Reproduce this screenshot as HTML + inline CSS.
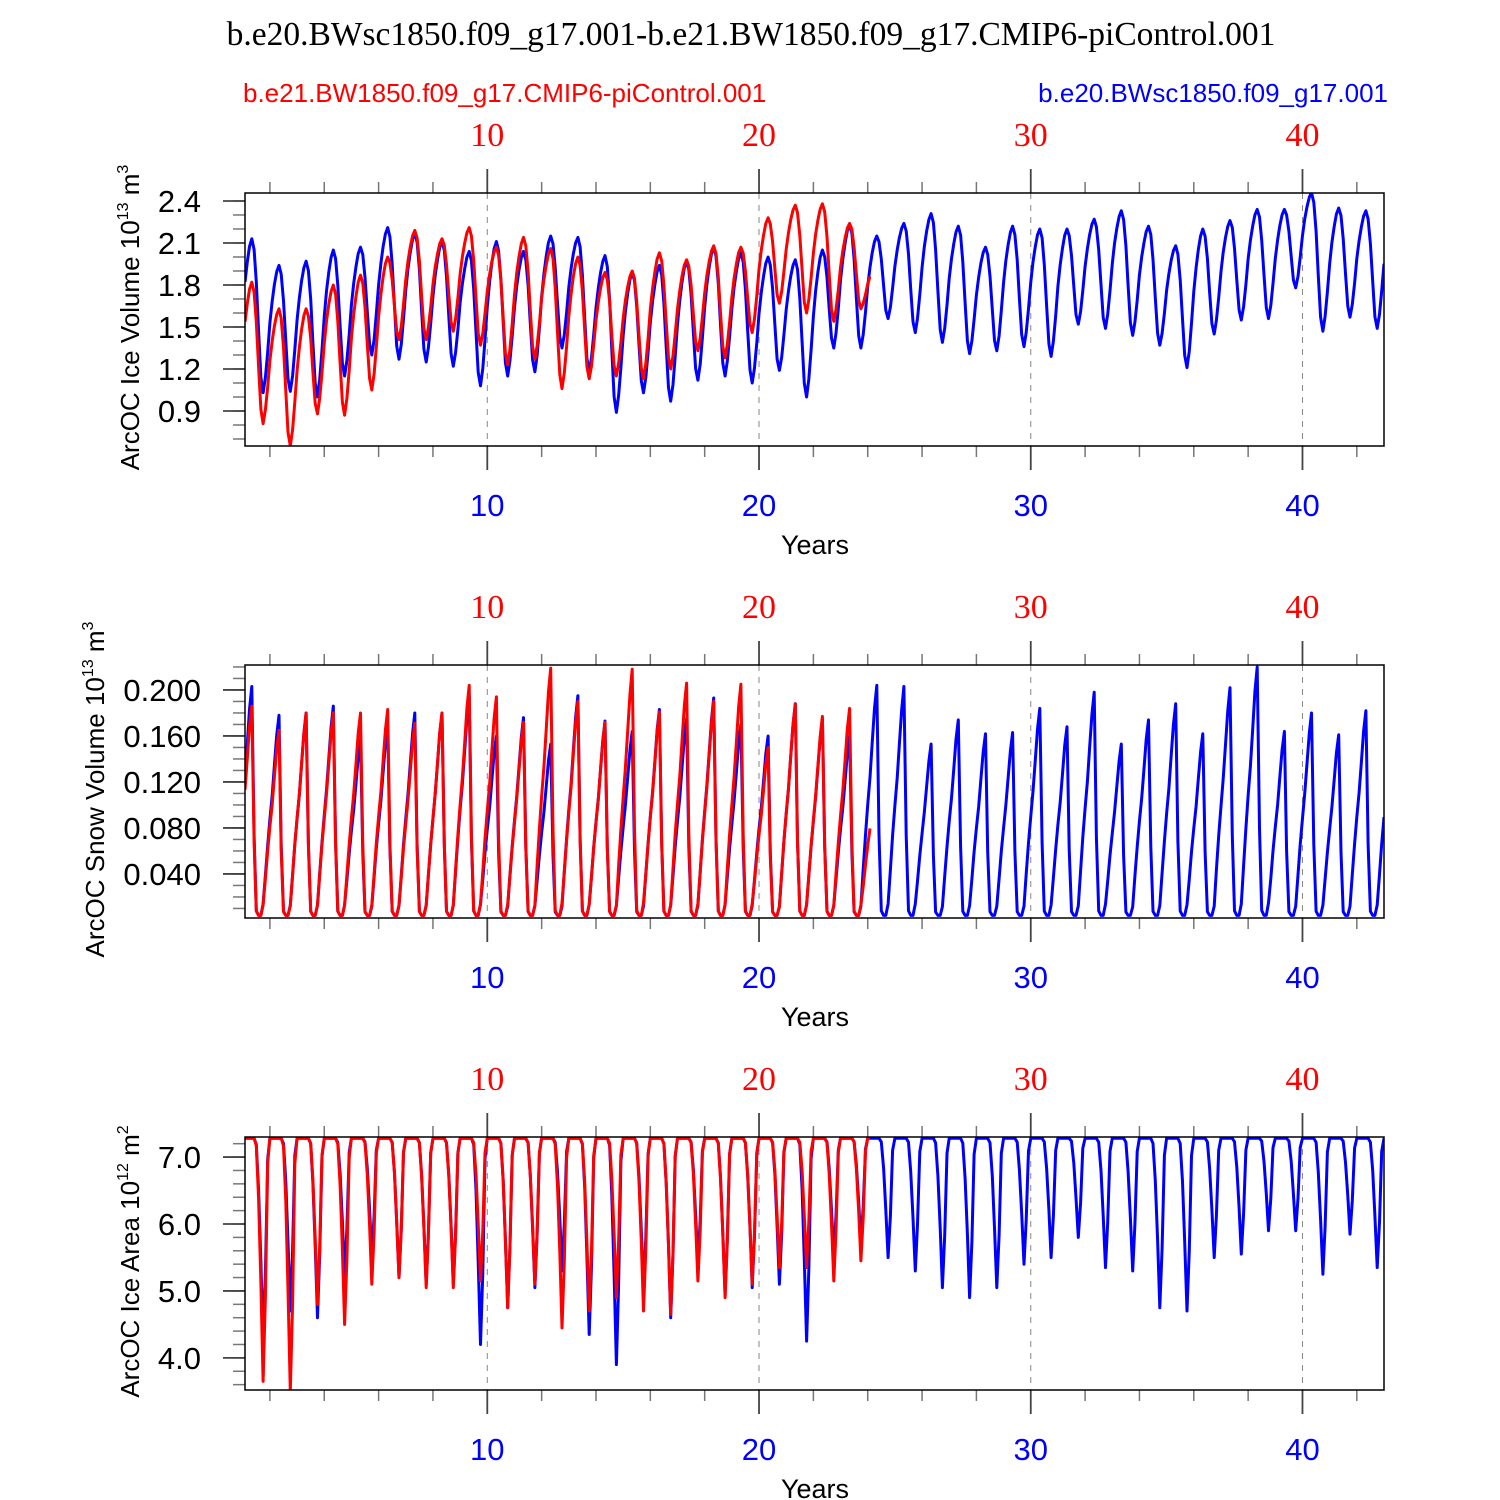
<!DOCTYPE html>
<html><head><meta charset="utf-8"><style>
html,body{margin:0;padding:0;background:#fff}
svg{display:block}
</style></head><body>
<svg id="chart" width="1500" height="1500" viewBox="0 0 1500 1500" xmlns="http://www.w3.org/2000/svg">
<text x="751" y="45" font-family="Liberation Serif, serif" font-size="33.5" text-anchor="middle">b.e20.BWsc1850.f09_g17.001-b.e21.BW1850.f09_g17.CMIP6-piControl.001</text>
<text x="243" y="102" font-family="Liberation Sans, sans-serif" font-size="26" fill="#ff0000">b.e21.BW1850.f09_g17.CMIP6-piControl.001</text>
<text x="1388" y="102" font-family="Liberation Sans, sans-serif" font-size="26" fill="#0000ff" text-anchor="end">b.e20.BWsc1850.f09_g17.001</text>
<g id="panels"></g>
</svg>
<script>
// ---- data (annual extremes) ----
const volBlueMax=[2.13,1.94,1.97,2.05,2.07,2.21,2.17,2.11,2.04,2.11,2.04,2.15,2.14,2.01,1.89,1.94,1.97,2.07,2.03,2.0,1.98,2.05,2.23,2.15,2.24,2.31,2.22,2.07,2.22,2.20,2.20,2.27,2.33,2.22,2.08,2.20,2.26,2.34,2.34,2.46,2.35,2.33];
const volBlueMin=[1.03,1.04,1.0,1.15,1.3,1.27,1.25,1.22,1.08,1.15,1.18,1.35,1.18,0.89,1.03,0.97,1.12,1.15,1.1,1.19,1.0,1.35,1.35,1.56,1.46,1.39,1.31,1.33,1.36,1.29,1.52,1.49,1.44,1.37,1.21,1.45,1.55,1.56,1.78,1.47,1.57,1.49];
const volRedMax=[1.82,1.63,1.63,1.80,1.87,2.0,2.19,2.13,2.21,2.07,2.14,2.06,2.0,1.89,1.90,2.03,1.98,2.08,2.07,2.28,2.37,2.38,2.24,1.95];
const volRedMin=[0.81,0.65,0.88,0.87,1.05,1.41,1.41,1.47,1.37,1.23,1.27,1.06,1.13,1.15,1.13,1.2,1.33,1.28,1.46,1.67,1.6,1.54,1.63,1.63];
const snowBlueMax=[0.203,0.178,0.18,0.186,0.157,0.17,0.18,0.18,0.195,0.16,0.176,0.153,0.195,0.173,0.164,0.183,0.175,0.193,0.17,0.16,0.188,0.175,0.16,0.204,0.203,0.153,0.174,0.162,0.163,0.184,0.168,0.198,0.153,0.174,0.188,0.162,0.202,0.22,0.164,0.18,0.161,0.182];
const snowRedMax=[0.186,0.165,0.18,0.18,0.18,0.183,0.171,0.18,0.204,0.194,0.172,0.219,0.19,0.172,0.218,0.181,0.206,0.19,0.205,0.15,0.188,0.177,0.184,0.13];
const snowMin=0.004;
const areaBlueMin=[4.2,4.7,4.6,5.2,5.5,5.2,5.1,5.1,4.2,4.75,5.05,5.3,4.35,3.9,5.0,4.6,5.4,4.95,5.05,5.1,4.25,5.5,5.7,5.5,5.3,5.05,4.9,5.05,5.4,5.5,5.8,5.35,5.3,4.75,4.7,5.5,5.55,5.9,5.9,5.25,5.85,5.35];
const areaRedMin=[3.65,3.5,4.8,4.5,5.1,5.2,5.05,5.05,5.15,4.75,5.1,4.45,4.7,4.9,4.7,4.65,5.15,4.9,5.1,5.35,5.35,5.15,5.45,5.45];
const areaMax=7.28;
const volTicks=[0.9,1.2,1.5,1.8,2.1,2.4];
const snowTicks=[0.040,0.080,0.120,0.160,0.200];
const areaTicks=[4.0,5.0,6.0,7.0];
const yearTicks=[10,20,30,40];
// normalized seasonal profiles (month 1..12)
const volShape=[0.72,0.85,0.95,1.0,0.93,0.72,0.4,0.1,0,0.12,0.32,0.55];
const snowShape=[0.6,0.75,0.9,1.0,0.35,0.02,0,0,0.05,0.2,0.35,0.48];
const areaShape=[1,1,1,1,1,0.97,0.75,0.4,0,0.35,0.9,1];

const NS='http://www.w3.org/2000/svg';
const X0=245,X1=1384,T0=1.083,T1=43.0;
function xs(t){return X0+(t-T0)/(T1-T0)*(X1-X0);}
function el(tag,attrs,parent){const e=document.createElementNS(NS,tag);for(const k in attrs)e.setAttribute(k,attrs[k]);parent.appendChild(e);return e;}

function series(maxA,minA,shape,nYears,endMonth){
  const pts=[];
  const mx=i=>Array.isArray(maxA)?maxA[Math.min(i,maxA.length-1)]:maxA;
  const mn=i=>Array.isArray(minA)?minA[Math.min(i,minA.length-1)]:minA;
  for(let y=0;y<nYears;y++){
    for(let m=1;m<=12;m++){
      if(y===nYears-1&&m>endMonth)break;
      const f=shape[m-1];let v;
      if(m<=4){const lo=y>0?mn(y-1):mn(y);v=lo+f*(mx(y)-lo);}
      else if(m<=9){v=mn(y)+f*(mx(y)-mn(y));}
      else{const hi=mx(y+1);v=mn(y)+f*(hi-mn(y));}
      pts.push([y+1+m/12,v]);
    }
  }
  return pts;
}

function panel(cfg){
  const g=el('g',{},document.getElementById('panels'));
  
  
  const {top,bot,ymin,ymax}=cfg;
  const ys=v=>bot-(v-ymin)/(ymax-ymin)*(bot-top);
  for(let v=Math.ceil(ymin/cfg.minor-1e-6)*cfg.minor;v<=ymax+1e-9;v+=cfg.minor){
    const t=el('line',{x1:X0-12,x2:X0,y1:ys(v),y2:ys(v),stroke:'#777','stroke-width':1.5},g);
    
  }
  cfg.ticks.forEach(v=>{
    const t=el('line',{x1:X0-22,x2:X0,y1:ys(v),y2:ys(v),stroke:'#444','stroke-width':1.8},g);
    
    const l=el('text',{x:X0-44,y:ys(v)+11,'font-family':'Liberation Sans, sans-serif','font-size':31,'text-anchor':'end'},g);
    l.textContent=v.toFixed(cfg.dec);
    
  });
  for(let yr=2;yr<=42;yr+=2){
    const major=yr%10===0,len=major?24:11;
    [[top-len,top],[bot,bot+len]].forEach(([a,b])=>{
      const t=el('line',{x1:xs(yr),x2:xs(yr),y1:a,y2:b,stroke:major?'#444':'#777','stroke-width':major?1.8:1.5},g);
      
    });
  }
  yearTicks.forEach(yr=>{
    const d=el('line',{x1:xs(yr),x2:xs(yr),y1:top,y2:bot,stroke:'#888','stroke-width':1,'stroke-dasharray':'6,6'},g);
    
    const a=el('text',{x:xs(yr),y:top-47,'font-family':'Liberation Serif, serif','font-size':34,'text-anchor':'middle',fill:'#ff0000'},g);
    a.textContent=yr;
    const b=el('text',{x:xs(yr),y:bot+70,'font-family':'Liberation Sans, sans-serif','font-size':31,'text-anchor':'middle',fill:'#0000ff'},g);
    b.textContent=yr;
  });
  const xt=el('text',{x:815,y:bot+108,'font-family':'Liberation Sans, sans-serif','font-size':27,'text-anchor':'middle'},g);
  xt.textContent='Years';
  const yt=el('text',{transform:`translate(${cfg.ytx},${(top+bot)/2-2}) rotate(-90)`,'font-family':'Liberation Sans, sans-serif','font-size':26,'text-anchor':'middle'},g);
  yt.innerHTML=cfg.ytitle;
  const cid='clip-'+cfg.name;
  const cp=el('clipPath',{id:cid},g);el('rect',{x:X0,y:top,width:X1-X0,height:bot-top},cp);
  const lg=el('g',{'clip-path':`url(#${cid})`},g);
  cfg.lines.forEach(s=>{
    const d=s.pts.map((p,i)=>(i?'L':'M')+xs(p[0]).toFixed(1)+','+ys(p[1]).toFixed(1)).join('');
    const p=el('path',{d:d,fill:'none',stroke:s.color,'stroke-width':3,'stroke-linejoin':'round'},lg);
    
  });
  const fr=el('rect',{x:X0,y:top,width:X1-X0,height:bot-top,fill:'none',stroke:'#000','stroke-width':1.5},g);
  
}

panel({name:'ice-volume-panel',top:193,bot:446,ymin:0.65,ymax:2.457,ticks:volTicks,minor:0.1,dec:1,ytx:139,
  ytitle:'ArcOC Ice Volume 10<tspan dy="-11" font-size="16">13</tspan><tspan dy="11"> m</tspan><tspan dy="-11" font-size="16">3</tspan>',
  lines:[{name:'ice-volume-blue-line',color:'#0000ff',pts:series(volBlueMax,volBlueMin,volShape,42,12)},
         {name:'ice-volume-red-line',color:'#ff0000',pts:series(volRedMax,volRedMin,volShape,24,1)}]});
panel({name:'snow-volume-panel',top:665,bot:918,ymin:0.0017,ymax:0.2217,ticks:snowTicks,minor:0.01,dec:3,ytx:104,
  ytitle:'ArcOC Snow Volume 10<tspan dy="-11" font-size="16">13</tspan><tspan dy="11"> m</tspan><tspan dy="-11" font-size="16">3</tspan>',
  lines:[{name:'snow-volume-blue-line',color:'#0000ff',pts:series(snowBlueMax,snowMin,snowShape,42,12)},
         {name:'snow-volume-red-line',color:'#ff0000',pts:series(snowRedMax,snowMin,snowShape,24,1)}]});
panel({name:'ice-area-panel',top:1137,bot:1390,ymin:3.52,ymax:7.3,ticks:areaTicks,minor:0.2,dec:1,ytx:139,
  ytitle:'ArcOC Ice Area 10<tspan dy="-11" font-size="16">12</tspan><tspan dy="11"> m</tspan><tspan dy="-11" font-size="16">2</tspan>',
  lines:[{name:'ice-area-blue-line',color:'#0000ff',pts:series(areaMax,areaBlueMin,areaShape,42,12)},
         {name:'ice-area-red-line',color:'#ff0000',pts:series(areaMax,areaRedMin,areaShape,24,1)}]});
</script>
</body></html>
